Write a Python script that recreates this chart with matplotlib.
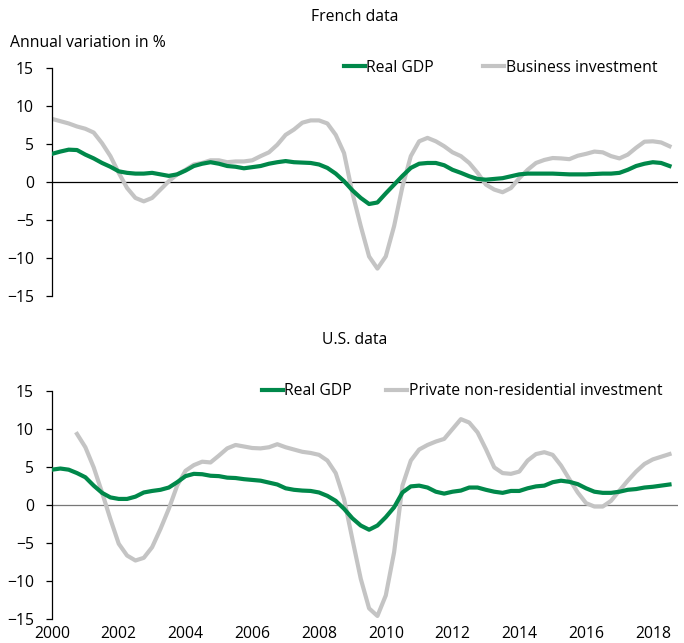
import numpy as np
import matplotlib
matplotlib.use("Agg")
import matplotlib.pyplot as plt

plt.rcParams['font.family'] = ['Open Sans', 'DejaVu Sans']

# quarterly observations, 2000Q1 .. 2018Q3
quarters = 2000 + np.arange(75) / 4

fr_gdp = [3.7, 4.0, 4.25, 4.2, 3.6, 3.1, 2.5, 2.0, 1.4, 1.2, 1.1, 1.1, 1.2, 1.0, 0.8, 1.0,
          1.5, 2.1, 2.4, 2.6, 2.4, 2.1, 2.0, 1.8, 1.95, 2.1, 2.4, 2.6, 2.75, 2.6, 2.55, 2.5,
          2.3, 1.85, 1.1, 0.1, -1.1, -2.1, -2.9, -2.7, -1.5, -0.35, 0.8, 1.85, 2.4, 2.5, 2.5, 2.2,
          1.6, 1.2, 0.75, 0.4, 0.3, 0.4, 0.5, 0.75, 1.0, 1.1, 1.1, 1.1, 1.1, 1.05, 1.0, 1.0,
          1.0, 1.05, 1.1, 1.1, 1.2, 1.6, 2.1, 2.4, 2.6, 2.5, 2.1]
fr_inv = [8.3, 8.0, 7.7, 7.3, 7.0, 6.5, 5.1, 3.4, 1.2, -0.8, -2.1, -2.55, -2.1, -1.0, 0.1, 1.0,
          1.6, 2.3, 2.5, 2.85, 2.85, 2.6, 2.7, 2.7, 2.85, 3.4, 3.9, 4.9, 6.2, 6.9, 7.8, 8.1,
          8.1, 7.7, 6.2, 3.8, -1.45, -5.8, -9.8, -11.4, -9.8, -5.8, -0.6, 3.4, 5.35, 5.8, 5.35, 4.7,
          3.9, 3.4, 2.5, 1.2, -0.35, -1.0, -1.35, -0.8, 0.5, 1.6, 2.5, 2.9, 3.15, 3.1, 3.0, 3.45,
          3.7, 4.0, 3.9, 3.4, 3.1, 3.6, 4.5, 5.3, 5.35, 5.2, 4.7]

us_gdp = [4.65, 4.8, 4.65, 4.2, 3.65, 2.55, 1.6, 1.0, 0.8, 0.8, 1.1, 1.65, 1.85, 2.0, 2.3, 3.0,
          3.8, 4.1, 4.05, 3.85, 3.8, 3.6, 3.55, 3.4, 3.3, 3.2, 2.95, 2.7, 2.2, 2.0, 1.9, 1.85,
          1.65, 1.2, 0.55, -0.5, -1.75, -2.7, -3.25, -2.7, -1.6, -0.3, 1.65, 2.45, 2.55, 2.3, 1.75, 1.5,
          1.75, 1.9, 2.3, 2.3, 2.0, 1.75, 1.6, 1.85, 1.85, 2.2, 2.45, 2.55, 3.0, 3.2, 3.05, 2.75,
          2.2, 1.75, 1.6, 1.6, 1.75, 2.0, 2.1, 2.3, 2.4, 2.55, 2.7]
# private non-residential investment starts in 2000Q4
us_inv = [np.nan, np.nan, np.nan,
          9.35, 7.6, 4.95, 1.65, -1.85, -5.1, -6.65, -7.3, -6.95, -5.55, -3.15, -0.5, 2.55,
          4.5, 5.25, 5.7, 5.6, 6.5, 7.45, 7.9, 7.7, 7.5, 7.45, 7.6, 8.0, 7.6, 7.3, 7.0, 6.85,
          6.6, 5.85, 4.2, 0.8, -4.5, -9.7, -13.6, -14.6, -11.9, -6.2, 2.55, 5.85, 7.3, 7.9, 8.35, 8.7,
          10.0, 11.3, 10.85, 9.55, 7.35, 4.95, 4.2, 4.1, 4.4, 5.85, 6.7, 6.95, 6.6, 5.2, 3.4, 1.65,
          0.25, -0.2, -0.2, 0.55, 1.9, 3.2, 4.4, 5.4, 6.0, 6.35, 6.7]

year_ticks = list(range(2000, 2019, 2))

green = '#00884a'
grey = '#c4c4c4'
fs = 11.3

fig = plt.figure(figsize=(6.84, 6.43), dpi=100)
ax1 = fig.add_axes([0.076, 0.5397, 0.915, 0.3546])
ax2 = fig.add_axes([0.076, 0.0373, 0.915, 0.3546])

panels = [
    (ax1, fr_gdp, fr_inv, 'Business investment', 'black', 0.466, 3.1),
    (ax2, us_gdp, us_inv, 'Private non-residential investment', '#777777', 0.335, 2.15),
]
for ax, gdp, inv, inv_label, zcol, lx, colsp in panels:
    ax.axhline(0, color=zcol, lw=0.9, zorder=1)
    ax.plot(quarters, gdp, color=green, lw=3, label='Real GDP', zorder=3)
    ax.plot(quarters, inv, color=grey, lw=3, label=inv_label, zorder=2)
    ax.set_xlim(2000, 2018.75)
    ax.set_ylim(-15, 15)
    ax.set_yticks([-15, -10, -5, 0, 5, 10, 15])
    for s in ['top', 'right', 'bottom']:
        ax.spines[s].set_visible(False)
    ax.spines['left'].set_linewidth(0.9)
    ax.tick_params(axis='y', length=4, width=0.9, pad=9, labelsize=fs)
    ax.legend(loc='center left', bbox_to_anchor=(lx, 1.0), frameon=False, ncol=2,
              fontsize=fs, handlelength=1.35, handletextpad=0.1, columnspacing=colsp,
              borderaxespad=0, borderpad=0)

ax1.set_xticks([])
ax2.set_xticks(year_ticks)
ax2.tick_params(axis='x', length=0, pad=5, labelsize=fs)

fig.text(355 / 684, 1 - 17 / 643, 'French data', ha='center', va='center', fontsize=fs)
fig.text(10 / 684, 1 - 43 / 643, 'Annual variation in %', ha='left', va='center', fontsize=fs)
fig.text(355 / 684, 1 - 340 / 643, 'U.S. data', ha='center', va='center', fontsize=fs)

fig.savefig('out.png', dpi=100)
